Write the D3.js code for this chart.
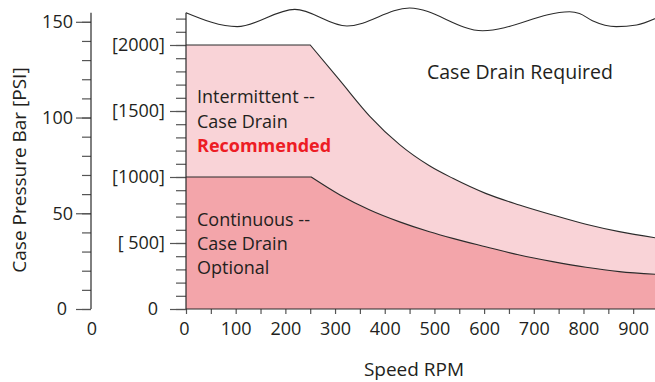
<!DOCTYPE html>
<html>
<head>
<meta charset="utf-8">
<script src="https://cdn.jsdelivr.net/npm/d3@7"></script>
<style>
  html, body { margin: 0; padding: 0; background: #fff; }
  svg { display: block; font-family: "Open Sans", "Noto Sans", sans-serif; }
  text { fill: #231F20; }
</style>
</head>
<body>
<svg id="chart" width="655" height="382"></svg>
<script>
// ---------- data ----------
const speedUpper = [0, 250, 310, 370, 430, 490, 537, 603, 671, 738, 805, 872, 950];
const psiUpper   = [2000, 2000, 1730, 1460, 1245, 1085, 990, 876, 788, 712, 642, 586, 536];

const speedLower = [0, 252, 310, 370, 430, 490, 537, 603, 671, 738, 805, 872, 950];
const psiLower   = [1000, 1000, 864, 750, 660, 585, 535, 472, 409, 359, 316, 283, 262];

// decorative "break" line at the top of the chart
const speedWave = [0, 103, 219, 324, 450, 597, 772, 792, 818, 866, 907, 950];
const psiWave   = [2245, 2139, 2270, 2144, 2280, 2108, 2252, 2239, 2184, 2139, 2152, 2210];

const barTicksMajor = [0, 50, 100, 150];
const barTicksMinor = d3.range(0, 151, 10);
const psiTicksMajor = [0, 500, 1000, 1500, 2000];
const psiTickLabels = ["0", "[ 500]", "[1000]", "[1500]", "[2000]"];
const psiTicksMinor = d3.range(0, 2201, 100);
const speedTicksMajor = d3.range(0, 901, 100);
const speedTicksMinor = d3.range(0, 951, 50);

const regionLabelsUpper = ["Intermittent --", "Case Drain", "Recommended"];
const regionLabelsLower = ["Continuous --", "Case Drain", "Optional"];
const topLabel = "Case Drain Required";
const xTitle = "Speed RPM";
const yTitle = "Case Pressure Bar [PSI]";

// ---------- scales ----------
const svg = d3.select("#chart");
const x = d3.scaleLinear().domain([0, 950]).range([186, 658]);
const y = d3.scaleLinear().domain([0, 2000]).range([309, 45]);        // PSI
const yBar = d3.scaleLinear().domain([0, 150]).range([309, 21.8]);    // bar
const axisTopPsi = 2245;

const lightFill = "#F9D3D7";
const darkFill = "#F3A5AA";
const lineColor = "#2b2b2b";

// edge: flat linear part then monotone curve (sharp knee)
function edgePath(rpm, psi) {
  const pts = rpm.map((r, i) => [x(r), y(psi[i])]);
  const curve = d3.line().curve(d3.curveMonotoneX)(pts.slice(1));
  return `M${pts[0][0]},${pts[0][1]}L${curve.slice(1)}`;
}
function areaPath(rpm, psi) {
  return edgePath(rpm, psi) + `L${x(rpm[rpm.length - 1])},${y(0)}L${x(0)},${y(0)}Z`;
}

svg.append("path").attr("d", areaPath(speedUpper, psiUpper)).attr("fill", lightFill);
svg.append("path").attr("d", areaPath(speedLower, psiLower)).attr("fill", darkFill);

svg.append("path").attr("d", edgePath(speedUpper, psiUpper))
  .attr("fill", "none").attr("stroke", lineColor).attr("stroke-width", 1.1);
svg.append("path").attr("d", edgePath(speedLower, psiLower))
  .attr("fill", "none").attr("stroke", lineColor).attr("stroke-width", 1.1);

// wave line
svg.append("path")
  .attr("d", d3.line().x((d, i) => x(speedWave[i])).y(d => y(d)).curve(d3.curveMonotoneX)(psiWave))
  .attr("fill", "none").attr("stroke", lineColor).attr("stroke-width", 1.1);

// ---------- axes ----------
const tickColor = "#555";
function styleAxis(g) {
  g.select(".domain").remove();
  g.selectAll(".tick line").attr("stroke", tickColor).attr("stroke-width", 1.2);
  g.selectAll(".tick text").attr("font-size", 18).attr("fill", "#231F20")
    .attr("font-family", "Open Sans, Noto Sans, sans-serif");
}

// left bar axis
const xLeft = 91;
svg.append("g").attr("transform", `translate(${xLeft},0)`)
  .call(d3.axisLeft(yBar).tickValues(barTicksMinor).tickSize(9).tickFormat(""))
  .call(styleAxis);
const gBar = svg.append("g").attr("transform", `translate(${xLeft},0)`)
  .call(d3.axisLeft(yBar).tickValues(barTicksMajor).tickSize(15).tickPadding(3).tickFormat(d3.format("d")))
  .call(styleAxis);
gBar.selectAll(".tick text").filter(d => d === 0).attr("dx", -6);
svg.append("line").attr("x1", xLeft).attr("x2", xLeft)
  .attr("y1", y(0)).attr("y2", y(axisTopPsi)).attr("stroke", lineColor).attr("stroke-width", 1.2);

// PSI axis
const xPsi = 186;
svg.append("g").attr("transform", `translate(${xPsi},0)`)
  .call(d3.axisLeft(y).tickValues(psiTicksMinor).tickSize(10).tickFormat(""))
  .call(styleAxis);
const gPsi = svg.append("g").attr("transform", `translate(${xPsi},0)`)
  .call(d3.axisLeft(y).tickValues(psiTicksMajor).tickSize(16).tickPadding(5)
    .tickFormat((d, i) => psiTickLabels[i]))
  .call(styleAxis);
gPsi.selectAll(".tick text").style("white-space", "pre");
gPsi.selectAll(".tick text").filter(d => d === 0).attr("dx", -7);
svg.append("line").attr("x1", xPsi).attr("x2", xPsi)
  .attr("y1", y(0)).attr("y2", y(axisTopPsi)).attr("stroke", lineColor).attr("stroke-width", 1.2);

// X axis
svg.append("g").attr("transform", `translate(0,${y(0)})`)
  .call(d3.axisBottom(x).tickValues(speedTicksMinor).tickSize(5).tickFormat(""))
  .call(styleAxis);
const gX = svg.append("g").attr("transform", `translate(0,${y(0)})`)
  .call(d3.axisBottom(x).tickValues(speedTicksMajor).tickSize(0).tickPadding(13).tickFormat(d3.format("d")))
  .call(styleAxis);
gX.selectAll(".tick text").filter(d => d === 0).attr("dx", -2);
svg.append("line").attr("x1", x(0)).attr("x2", 655)
  .attr("y1", y(0)).attr("y2", y(0)).attr("stroke", lineColor).attr("stroke-width", 1.2);

// lone "0" under left axis
svg.append("text").attr("x", xLeft + 1).attr("y", 335).attr("text-anchor", "middle")
  .attr("font-size", 18).text("0");

// ---------- titles ----------
svg.append("text").attr("x", 414).attr("y", 376).attr("text-anchor", "middle")
  .attr("font-size", 19).text(xTitle);
svg.append("text").attr("transform", "translate(26,170) rotate(-90)").attr("text-anchor", "middle")
  .attr("font-size", 19).text(yTitle);

// ---------- annotations ----------
svg.append("text").attr("x", 427).attr("y", 79).attr("font-size", 19.5).text(topLabel);

const gU = svg.append("text").attr("x", 197).attr("y", 103).attr("font-size", 18);
regionLabelsUpper.forEach((t, i) => {
  gU.append("tspan").attr("x", 197).attr("y", 103 + i * 24.5).text(t)
    .attr("font-weight", i === 2 ? "bold" : "normal")
    .style("fill", i === 2 ? "#ED1C24" : "#231F20");
});
const gL = svg.append("text").attr("x", 197).attr("y", 226).attr("font-size", 18);
regionLabelsLower.forEach((t, i) => {
  gL.append("tspan").attr("x", 197).attr("y", 226 + i * 24).text(t);
});
</script>
</body>
</html>
